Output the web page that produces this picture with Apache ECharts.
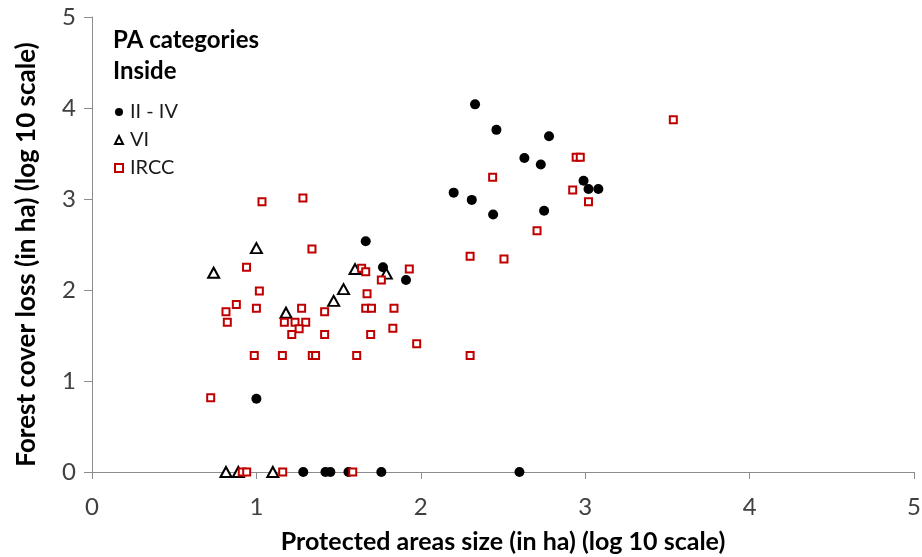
<!DOCTYPE html>
<html>
<head>
<meta charset="utf-8">
<script src="https://cdn.jsdelivr.net/npm/echarts@6/dist/echarts.min.js"></script>
<style>html,body{margin:0;padding:0;background:#fff}#c{width:922px;height:557px}</style>
</head>
<body>
<div id="c"></div>
<script>
// II - IV (filled circles)
var circX = [2.33,2.46,2.78,2.63,2.73,2.99,3.02,3.08,2.20,2.31,2.44,2.75,1.91,1.665,1.77,1.00,1.285,1.42,1.45,1.56,1.76,2.60];
var circY = [4.04,3.76,3.69,3.45,3.38,3.20,3.11,3.11,3.07,2.99,2.83,2.87,2.11,2.535,2.25,0.805,0,0,0,0,0,0];
// VI (open triangles)
var triX = [0.74,1.00,1.18,1.47,1.53,1.60,1.79,0.815,0.89,1.10];
var triY = [2.19,2.46,1.75,1.88,2.01,2.23,2.18,0,0,0];
// IRCC (open squares)
var sqX = [1.034,1.283,1.338,0.94,1.64,1.665,1.93,1.76,1.018,1.673,0.878,0.815,1.00,1.275,1.415,1.665,1.70,1.837,0.823,1.17,1.235,1.30,1.26,1.215,1.415,1.695,1.83,1.975,0.987,1.158,1.34,1.36,1.61,0.722,2.945,2.97,2.437,2.924,3.02,2.707,2.30,2.506,3.536,2.30,0.914,0.941,1.16,1.586];
var sqY = [2.97,3.01,2.45,2.25,2.24,2.20,2.23,2.11,1.99,1.96,1.84,1.76,1.80,1.80,1.76,1.80,1.80,1.80,1.645,1.645,1.645,1.645,1.575,1.51,1.51,1.51,1.58,1.41,1.28,1.28,1.28,1.28,1.28,0.816,3.46,3.46,3.24,3.10,2.97,2.65,2.37,2.34,3.87,1.28,0,0,0,0];
var seriesNames = ['II - IV','VI','IRCC'];
var legendTitle = 'PA categories\nInside';
var xName = 'Protected areas size (in ha) (log 10 scale)';
var yName = 'Forest cover loss (in ha) (log 10 scale)';

function zip(a,b){return a.map(function(v,i){return [v,b[i]];});}
var FONT = 'Lato';
var axisCol = '#8c8c8c';

var chart = echarts.init(document.getElementById('c'), null, {renderer:'canvas'});
chart.setOption({
  animation:false,
  backgroundColor:'#fff',
  textStyle:{fontFamily:FONT},
  title:{
    text:legendTitle, left:108, top:20,
    textStyle:{fontFamily:FONT, fontSize:24, fontWeight:'bold', color:'#000', lineHeight:31}
  },
  legend:{
    data:seriesNames, orient:'vertical', left:109, top:97,
    itemGap:8, itemWidth:8, itemHeight:8,
    textStyle:{fontFamily:FONT, fontSize:20, color:'#1a1a1a', padding:[0,0,0,2], lineHeight:20}
  },
  grid:{left:92, right:8, top:17, bottom:85, containLabel:false, outerBoundsMode:'none'},
  xAxis:{
    type:'value', min:0, max:5, interval:1,
    name:xName, nameLocation:'middle', nameGap:57,
    nameTextStyle:{fontFamily:FONT, fontSize:25, fontWeight:'bold', color:'#000'},
    axisLine:{onZero:false, lineStyle:{color:axisCol, width:1}},
    axisTick:{show:true, length:7, inside:false, lineStyle:{color:axisCol}},
    axisLabel:{fontFamily:FONT, fontSize:24, color:'#404040', margin:23},
    splitLine:{show:false}
  },
  yAxis:{
    type:'value', min:0, max:5, interval:1,
    name:yName, nameLocation:'middle', nameGap:52,
    nameTextStyle:{fontFamily:FONT, fontSize:26, fontWeight:'bold', color:'#000', padding:[0,20,0,0]},
    axisLine:{show:true, lineStyle:{color:axisCol, width:1}},
    axisTick:{show:true, length:8, lineStyle:{color:axisCol}},
    axisLabel:{fontFamily:FONT, fontSize:24, color:'#404040', margin:16},
    splitLine:{show:false}
  },
  series:[
    {name:'VI', type:'scatter', symbol:'triangle', symbolSize:[11,10], z:2,
     itemStyle:{color:'#fff', borderColor:'#000', borderWidth:2, opacity:1},
     data:zip(triX,triY)},
    {name:'II - IV', type:'scatter', symbol:'circle', symbolSize:10, z:3,
     itemStyle:{color:'#000', opacity:1},
     data:zip(circX,circY)},
    {name:'IRCC', type:'scatter', symbol:'rect', symbolSize:7, z:4,
     itemStyle:{color:'#fff', borderColor:'#c00000', borderWidth:2, opacity:1},
     data:zip(sqX,sqY)}
  ]
});
</script>
</body>
</html>
